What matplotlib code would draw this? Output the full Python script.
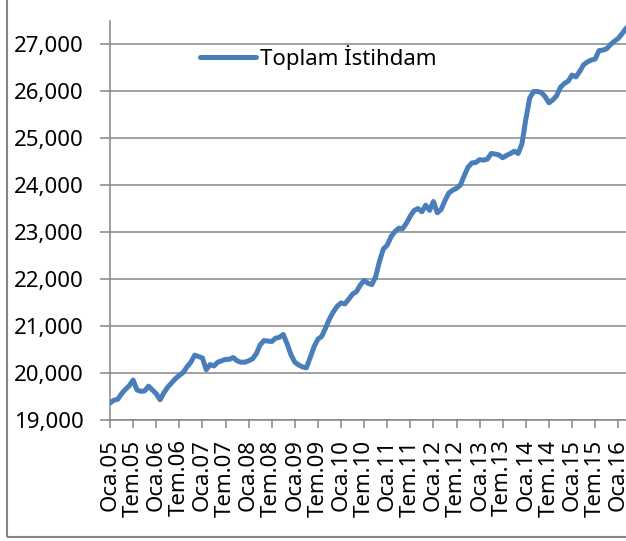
import matplotlib
matplotlib.use('Agg')
import matplotlib.pyplot as plt
from matplotlib.patches import Rectangle

plt.rcParams['font.family'] = ['Noto Sans', 'DejaVu Sans']

# monthly total employment (thousands), Oca.05 onward
istihdam = [
    19360, 19420, 19440, 19560, 19650, 19730, 19850, 19640, 19610, 19620, 19720, 19640,
    19560, 19430, 19580, 19700, 19790, 19880, 19950, 20010, 20130, 20230, 20380, 20350,
    20320, 20070, 20180, 20150, 20230, 20260, 20290, 20290, 20330, 20260, 20230, 20230,
    20260, 20300, 20410, 20600, 20690, 20680, 20670, 20740, 20760, 20820, 20620, 20390,
    20230, 20170, 20130, 20110, 20330, 20560, 20720, 20780, 20960, 21150, 21300, 21420,
    21490, 21470, 21570, 21680, 21730, 21870, 21970, 21910, 21880, 22050, 22380, 22640,
    22720, 22900, 23010, 23080, 23070, 23190, 23340, 23460, 23500, 23430, 23570, 23460,
    23650, 23410, 23480, 23670, 23830, 23890, 23930, 24000, 24200, 24380, 24470, 24480,
    24540, 24530, 24550, 24670, 24660, 24640, 24580, 24630, 24670, 24720, 24670, 24880,
    25400, 25850, 25990, 25990, 25970, 25880, 25750, 25810, 25900, 26080, 26160, 26210,
    26340, 26300, 26420, 26560, 26620, 26660, 26680, 26860, 26870, 26900, 26990, 27060,
    27120, 27220, 27330, 27420,
]
tick_labels = ['Oca.05', 'Tem.05', 'Oca.06', 'Tem.06', 'Oca.07', 'Tem.07', 'Oca.08', 'Tem.08',
               'Oca.09', 'Tem.09', 'Oca.10', 'Tem.10', 'Oca.11', 'Tem.11', 'Oca.12', 'Tem.12',
               'Oca.13', 'Tem.13', 'Oca.14', 'Tem.14', 'Oca.15', 'Tem.15', 'Oca.16']
y_ticks = [19000, 20000, 21000, 22000, 23000, 24000, 25000, 26000, 27000]

W, H = 626, 541
fig = plt.figure(figsize=(W / 100, H / 100), dpi=100)
# axes runs past the right edge, as in the cropped original
ax = fig.add_axes([110 / W, 1 - 420 / H, 527.5 / W, (420 - 21) / H])

grey = '#868686'
months = list(range(len(istihdam)))
ax.plot(months, istihdam, color='#4A7EBB', lw=3.6, solid_capstyle='round',
        label='Toplam İstihdam', zorder=3)

ax.set_xlim(0, 137)
ax.set_ylim(19000, 27490)
ax.set_xticks(range(0, 6 * len(tick_labels), 6))
ax.set_xticklabels(tick_labels, rotation=90, fontsize=16)
ax.set_yticks(y_ticks)
ax.set_yticklabels([f'{v:,}' for v in y_ticks], fontsize=16)

ax.grid(axis='y', color=grey, lw=1.1)
ax.set_axisbelow(True)
for s in ['top', 'right']:
    ax.spines[s].set_visible(False)
for s in ['left', 'bottom']:
    ax.spines[s].set_color(grey)
    ax.spines[s].set_linewidth(1.1)
ax.tick_params(axis='y', length=7, width=1.1, color=grey, pad=12)
ax.tick_params(axis='x', length=6, width=1.1, color=grey, pad=8)

ax.legend(loc='center left', bbox_to_anchor=(200 / W, 1 - 57 / H),
          bbox_transform=fig.transFigure, frameon=False, fontsize=16,
          handlelength=2.5, handletextpad=0.2, borderpad=0, borderaxespad=0)

# outer chart border
fig.patches.append(Rectangle((7 / W, 1 - 537 / H), 1.2, 1.2, transform=fig.transFigure,
                             fill=False, ec=grey, lw=1.5))

fig.savefig('out.png', dpi=100)
